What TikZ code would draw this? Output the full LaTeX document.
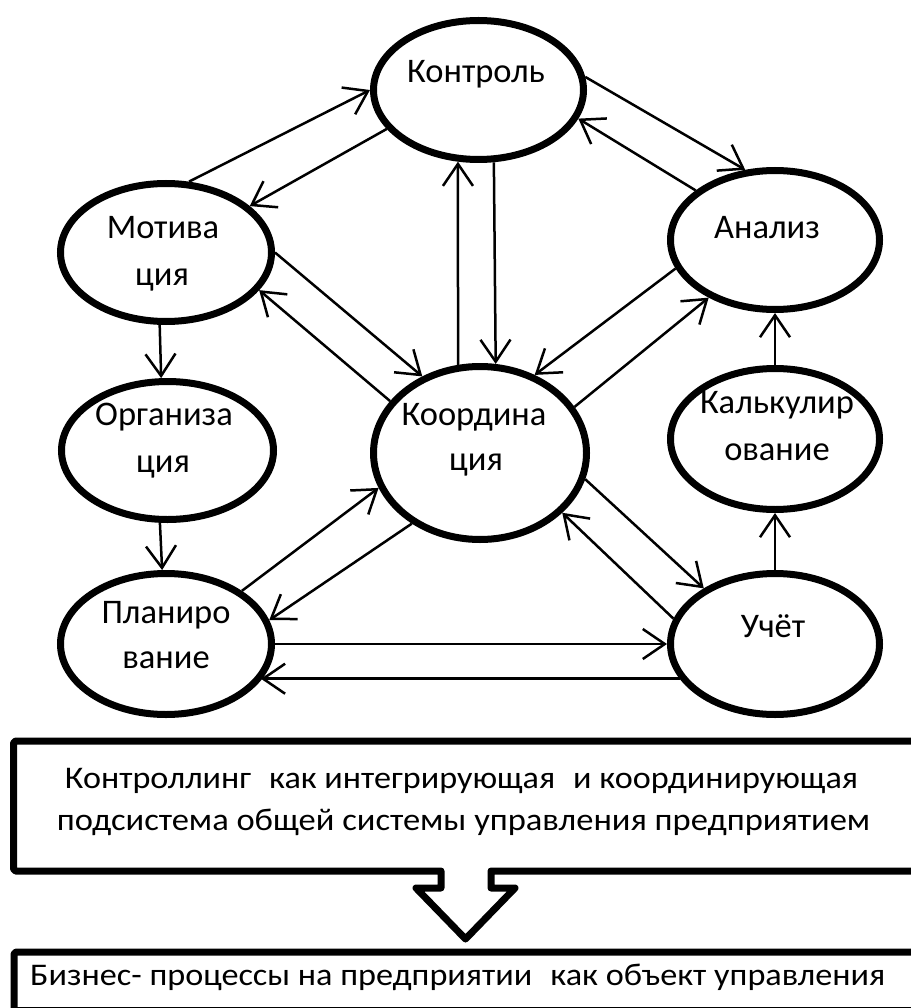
\documentclass[tikz,border=0pt]{standalone}
\usepackage{fontspec}
\setmainfont{Carlito}
\usetikzlibrary{arrows.meta,calc,shapes.geometric}
\begin{document}
\begin{tikzpicture}[x=1pt,y=-1pt,
  el/.style={draw,ellipse,line width=7pt,inner sep=0pt},
  lbl/.style={anchor=base,inner sep=0pt,font=\fontsize{34.5}{40}\selectfont},
  btxt/.style={anchor=base,inner sep=0pt,font=\fontsize{31.5}{38}\selectfont},
  con/.style={line width=2.5pt,-{Straight Barb[length=22pt,width=30pt]}},
  boxline/.style={line width=7pt,line join=round}]
\useasboundingbox (0,0) rectangle (910,1008);
% ellipses
\node[el,minimum width=210pt,minimum height=139pt] (kon) at (478.5,90) {};
\node[el,minimum width=211pt,minimum height=138pt] (mot) at (166,252.5) {};
\node[el,minimum width=209pt,minimum height=139pt] (ana) at (775,240) {};
\node[el,minimum width=212pt,minimum height=138pt] (org) at (167.5,450.5) {};
\node[el,minimum width=213pt,minimum height=173pt] (koo) at (480,453) {};
\node[el,minimum width=209pt,minimum height=141pt] (kal) at (775,439) {};
\node[el,minimum width=211pt,minimum height=141pt] (pla) at (166,644) {};
\node[el,minimum width=209pt,minimum height=141pt] (uch) at (775,644) {};
% labels
\node[lbl] (tkon) at (476,83) {Контроль};
\node[lbl] (tmot1) at (163,238) {Мотива};
\node[lbl] (tmot2) at (162,285) {ция};
\node[lbl] (tana) at (767,238) {Анализ};
\node[lbl] (torg1) at (164,425) {Организа};
\node[lbl] (torg2) at (163,472) {ция};
\node[lbl] (tkoo1) at (474,425) {Координа};
\node[lbl] (tkoo2) at (476,470) {ция};
\node[lbl] (tkal1) at (777,413) {Калькулир};
\node[lbl] (tkal2) at (777,460) {ование};
\node[lbl] (tpla1) at (166,623) {Планиро};
\node[lbl] (tpla2) at (166,668) {вание};
\node[lbl] (tuch) at (773,637) {Учёт};
% connectors
\draw[con] (mot.72.1) -- (kon.180);
\draw[con] (kon.203) -- (mot.29.5);
\draw[con] (kon.7.9) -- (ana.113.7);
\draw[con] (ana.148.5) -- (kon.344.4);
\draw[con] (koo.104) -- (kon.254);
\draw[con] (kon.282.9) -- (koo.80.5);
\draw[con] (ana.196.5) -- (koo.55.7);
\draw[con] (koo.26.8) -- (ana.221.7);
\draw[con] (mot.0) -- (koo.127.8);
\draw[con] (koo.150.7) -- (mot.338.4);
\draw[con] (mot.265.3) -- (org.95.9);
\draw[con] (org.264.9) -- (pla.93.9);
\draw[con] (pla.35.3) -- (koo.199.8);
\draw[con] (koo.226.6) -- (pla.13.2);
\draw[con] (koo.346.6) -- (uch.142);
\draw[con] (uch.166.2) -- (koo.324.5);
\draw[con] (pla.0) -- (uch.180);
\draw[con] (uch.200.9) -- (pla.339.3 |- uch.200.9);
\draw[con] (uch.north) -- (kal.south);
\draw[con] (kal.north) -- (ana.south);
% bottom callout
\draw[boxline] (912,741) -- (15.5,741) -- (13.5,743) -- (13.5,869) -- (15.5,871) -- (441,871) -- (441,888) -- (416,888) -- (465.5,939) -- (515,888) -- (491,888) -- (491,871) -- (912,871);
\node[btxt] (cb1) at (461.5,788) {\resizebox{793pt}{\height}{Контроллинг\hspace{0.3em} как интегрирующая\hspace{0.3em} и координирующая}};
\node[btxt] (cb2) at (463.5,830) {\resizebox{813pt}{\height}{подсистема общей системы управления предприятием}};
\draw[boxline] (912,952) -- (16,952) -- (14,954) -- (14,1010.5) -- (912,1010.5);
\node[btxt,anchor=base west] (bb1) at (30,985) {\resizebox{855pt}{\height}{Бизнес- процессы на предприятии\hspace{0.3em} как объект управления}};
\end{tikzpicture}
\end{document}
